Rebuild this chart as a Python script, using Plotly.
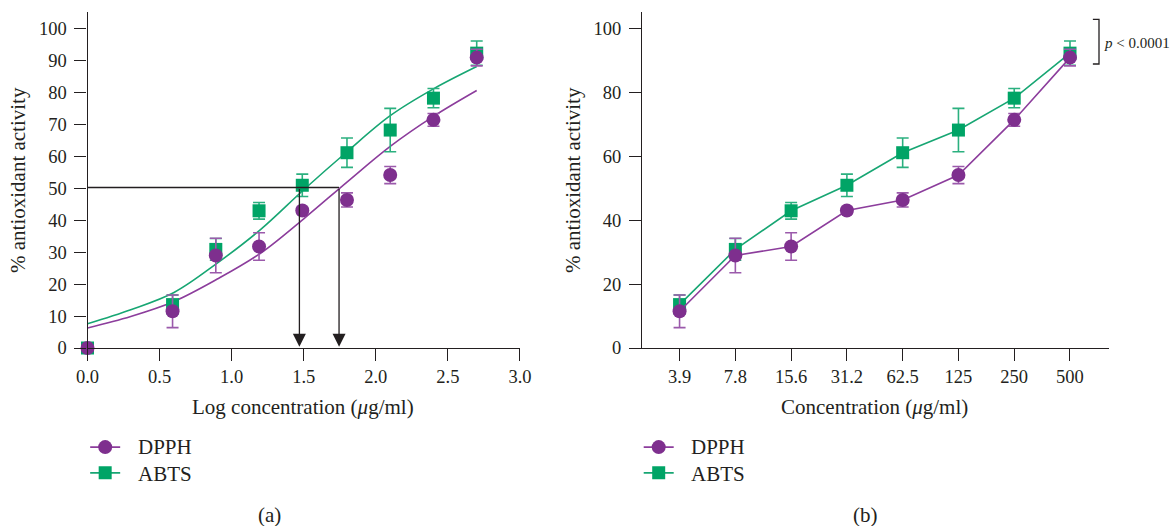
import plotly.graph_objects as go

# ---------------- data ----------------
conc_labels = ["3.9", "7.8", "15.6", "31.2", "62.5", "125", "250", "500"]
log_conc = [0.0, 0.59, 0.89, 1.19, 1.49, 1.80, 2.10, 2.40, 2.70]

dpph = [11.5, 29.0, 31.8, 43.1, 46.4, 54.2, 71.5, 91.0]
dpph_err = [5.1, 5.4, 4.3, 1.0, 2.2, 2.7, 2.0, 2.6]
abts = [13.6, 30.9, 43.0, 51.0, 61.2, 68.3, 78.3, 92.4]
abts_err = [3.0, 3.4, 2.6, 3.5, 4.6, 6.8, 3.0, 3.8]

# left panel includes the blank (log conc 0 -> 0 %)
dpph_left = [0.0] + dpph
dpph_left_err = [0.0] + dpph_err
abts_left = [0.0] + abts
abts_left_err = [0.0] + abts_err

# fitted dose-response curves
fit_x = [0.0, 0.3, 0.6, 0.9, 1.2, 1.5, 1.8, 2.1, 2.4, 2.7]
abts_fit = [7.6, 12.0, 17.4, 26.6, 37.1, 49.6, 61.5, 72.8, 81.2, 88.2]
dpph_fit = [6.3, 9.9, 14.6, 21.6, 29.7, 40.5, 52.0, 63.2, 72.6, 80.7]

ic50_level = 50.3
ic50_x = [1.47, 1.745]

series_names = ["DPPH", "ABTS"]

# ---------------- style ----------------
FONT = "Liberation Serif"
INK = "#231f20"
PURPLE = "#7e2f8e"
PURPLE_LINE = "#8c3d9c"
PURPLE_ERR = "#9b5aab"
GREEN = "#00a466"
GREEN_LINE = "#17a673"
GREEN_ERR = "#2bb07f"

fig = go.Figure()

# ---- left panel ----
fig.add_trace(go.Scatter(x=fit_x, y=abts_fit, mode="lines", line=dict(color=GREEN_LINE, width=1.6, shape="spline"),
                         showlegend=False, xaxis="x", yaxis="y"))
fig.add_trace(go.Scatter(x=fit_x, y=dpph_fit, mode="lines", line=dict(color=PURPLE_LINE, width=1.6, shape="spline"),
                         showlegend=False, xaxis="x", yaxis="y"))
fig.add_trace(go.Scatter(x=log_conc, y=abts_left, mode="markers",
                         marker=dict(symbol="square", size=13, color=GREEN),
                         error_y=dict(type="data", array=abts_left_err, color=GREEN_ERR, thickness=1.6, width=6),
                         showlegend=False, cliponaxis=False, xaxis="x", yaxis="y"))
fig.add_trace(go.Scatter(x=log_conc, y=dpph_left, mode="markers",
                         marker=dict(symbol="circle", size=14, color=PURPLE),
                         error_y=dict(type="data", array=dpph_left_err, color=PURPLE_ERR, thickness=1.6, width=6),
                         showlegend=False, cliponaxis=False, xaxis="x", yaxis="y"))

# ---- right panel ----
fig.add_trace(go.Scatter(x=conc_labels, y=abts, mode="lines+markers",
                         line=dict(color=GREEN_LINE, width=1.6),
                         marker=dict(symbol="square", size=13, color=GREEN),
                         error_y=dict(type="data", array=abts_err, color=GREEN_ERR, thickness=1.6, width=6),
                         showlegend=False, cliponaxis=False, xaxis="x2", yaxis="y2"))
fig.add_trace(go.Scatter(x=conc_labels, y=dpph, mode="lines+markers",
                         line=dict(color=PURPLE_LINE, width=1.6),
                         marker=dict(symbol="circle", size=14, color=PURPLE),
                         error_y=dict(type="data", array=dpph_err, color=PURPLE_ERR, thickness=1.6, width=6),
                         showlegend=False, cliponaxis=False, xaxis="x2", yaxis="y2"))

# ---- legend symbols (labels are drawn as text next to them) ----
for lg in ["legend", "legend2"]:
    fig.add_trace(go.Scatter(x=[None], y=[None], mode="lines+markers", name="\u00a0",
                             line=dict(color=PURPLE_LINE, width=1.6),
                             marker=dict(symbol="circle", size=14, color=PURPLE),
                             legend=lg, xaxis="x", yaxis="y"))
    fig.add_trace(go.Scatter(x=[None], y=[None], mode="lines+markers", name="\u00a0",
                             line=dict(color=GREEN_LINE, width=1.6),
                             marker=dict(symbol="square", size=13, color=GREEN),
                             legend=lg, xaxis="x", yaxis="y"))

axis_common = dict(showgrid=False, zeroline=False, showline=True, linecolor=INK, linewidth=1.3,
                   ticks="outside", ticklen=12, tickwidth=1.3, tickcolor=INK, automargin=False,
                   tickfont=dict(family=FONT, size=18.5, color=INK))

ydom = [0.3384, 0.9772]
legend_common = dict(xanchor="left", y=0.184, yanchor="top", bgcolor="rgba(0,0,0,0)",
                     font=dict(family=FONT, size=17.5, color=INK), tracegroupgap=0, itemwidth=30)
fig.update_layout(
    width=1170, height=526,
    margin=dict(l=0, r=0, t=0, b=0, autoexpand=False),
    paper_bgcolor="white", plot_bgcolor="white",
    font=dict(family=FONT, color=INK),
    xaxis=dict(domain=[0.0748, 0.4444], range=[0, 3.0], tickvals=[0, 0.5, 1.0, 1.5, 2.0, 2.5, 3.0],
               ticktext=["0.0", "0.5", "1.0", "1.5", "2.0", "2.5", "3.0"], anchor="y", **axis_common),
    yaxis=dict(domain=ydom, range=[0, 105.3], tickvals=list(range(0, 101, 10)), anchor="x",
               ticklabelstandoff=4, **axis_common),
    xaxis2=dict(domain=[0.5487, 0.9479], type="category", range=[-0.674, 7.70], anchor="y2", **axis_common),
    yaxis2=dict(domain=ydom, range=[0, 105.3], tickvals=list(range(0, 101, 20)), anchor="x2",
                ticklabelstandoff=4, **axis_common),
    legend=dict(x=0.0728, **legend_common),
    legend2=dict(x=0.5459, **legend_common),
)

# ---- IC50 guide lines and arrows ----
fig.add_shape(type="line", xref="x", yref="y", x0=0, x1=max(ic50_x), y0=ic50_level, y1=ic50_level,
              line=dict(color=INK, width=1.3))
for xv in ic50_x:
    fig.add_annotation(xref="x", yref="y", axref="x", ayref="y", x=xv, y=0.4, ax=xv, ay=ic50_level,
                       text="", showarrow=True, arrowhead=2, arrowsize=2.0, arrowwidth=1.3, arrowcolor=INK)

# ---- significance bracket ----
fig.add_shape(type="path", xref="x2", yref="y2",
              path="M 7.41,103.0 L 7.52,103.0 L 7.52,89.0 L 7.41,89.0",
              line=dict(color=INK, width=1.3))
fig.add_annotation(xref="x2", yref="y2", x=7.57, y=95.5, xanchor="left", yanchor="middle", showarrow=False,
                   text="<i>p</i> < 0.0001", font=dict(family=FONT, size=15, color=INK))


def add_text(x_px, y_px, text, size=21, angle=0, xanchor="center"):
    fig.add_annotation(xref="paper", yref="paper", x=x_px / 1170, y=(526 - y_px) / 526, text=text,
                       textangle=angle, xanchor=xanchor, yanchor="middle", showarrow=False,
                       font=dict(family=FONT, size=size, color=INK))


# ---- axis titles ----
ytitle = "% antioxidant activity"
add_text(18, 180, ytitle, angle=-90)
add_text(573, 180, ytitle, angle=-90)
add_text(303, 407, "Log concentration (<i>μ</i>g/ml)")
add_text(874, 407, "Concentration (<i>μ</i>g/ml)")

# ---- legend labels ----
for left_px in [136, 689]:
    add_text(left_px, 447, series_names[0], xanchor="left")
    add_text(left_px, 474, series_names[1], xanchor="left")

# ---- panel labels ----
add_text(269, 515, "(a)")
add_text(865, 515, "(b)")

page_fix = (
    "var gd=document.getElementById('{plot_id}');"
    "gd.style.position='fixed';gd.style.left='0px';gd.style.top='0px';"
    "document.body.style.margin='0';"
)
fig.write_html("out.html", config={"displayModeBar": False}, post_script=page_fix)
